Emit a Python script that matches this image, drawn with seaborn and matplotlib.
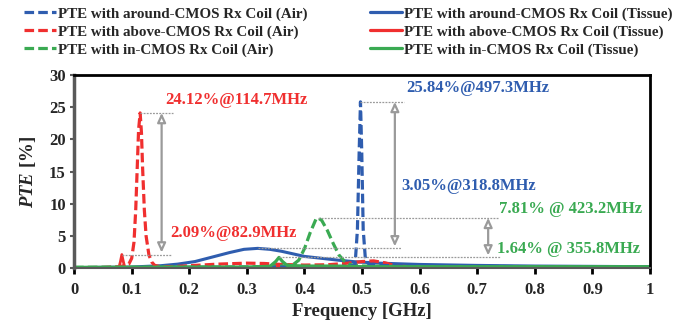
import pandas as pd
import matplotlib
matplotlib.use("Agg")
import matplotlib.pyplot as plt
from matplotlib.lines import Line2D
import seaborn as sns

# Colours of the three coil placements
blue = "#2F5DAF"
red = "#F02F2F"
green = "#3AAA52"

# around-CMOS Rx coil (Air)
f_blue_air = [0.0, 0.1, 0.2, 0.3, 0.4, 0.45, 0.48, 0.488, 0.492, 0.495, 0.4973, 0.4995, 0.502, 0.506,
              0.512, 0.52, 0.55, 0.6, 0.7, 0.8, 0.9, 1.0]
pte_blue_air = [0.05, 0.05, 0.08, 0.1, 0.15, 0.2, 0.3, 0.6, 6.0, 18.0, 25.84, 18.0, 6.0, 1.2,
                0.6, 0.45, 0.35, 0.3, 0.25, 0.2, 0.2, 0.2]

# around-CMOS Rx coil (Tissue)
f_blue_tis = [0.0, 0.1, 0.15, 0.18, 0.21, 0.24, 0.27, 0.295, 0.3188, 0.34, 0.36, 0.38, 0.4, 0.43,
              0.46, 0.49, 0.53, 0.6, 0.7, 0.8, 0.9, 1.0]
pte_blue_tis = [0.05, 0.15, 0.35, 0.6, 1.0, 1.7, 2.4, 2.9, 3.05, 2.9, 2.6, 2.2, 1.8, 1.5,
                1.2, 0.95, 0.75, 0.55, 0.4, 0.3, 0.25, 0.2]

# above-CMOS Rx coil (Air)
f_red_air = [0.0, 0.05, 0.08, 0.095, 0.1, 0.104, 0.107, 0.11, 0.112, 0.1147, 0.117, 0.119, 0.122,
             0.125, 0.13, 0.135, 0.14, 0.15, 0.17, 0.2, 0.25, 0.3, 0.33, 0.36, 0.4, 0.44, 0.47,
             0.5, 0.52, 0.54, 0.56, 0.6, 0.7, 0.8, 0.9, 1.0]
pte_red_air = [0.05, 0.08, 0.2, 0.6, 1.5, 4.0, 9.0, 16.5, 21.5, 24.12, 21.0, 15.5, 9.0,
               5.0, 2.0, 0.9, 0.4, 0.2, 0.2, 0.35, 0.6, 0.75, 0.7, 0.55, 0.45, 0.5, 0.7,
               1.0, 1.1, 0.8, 0.3, 0.1, 0.05, 0.05, 0.05, 0.05]

# above-CMOS Rx coil (Tissue)
f_red_tis = [0.0, 0.07, 0.078, 0.0805, 0.0829, 0.0855, 0.088, 0.095, 0.2, 0.34, 0.352, 0.36, 0.4,
             0.5, 0.6, 1.0]
pte_red_tis = [0.0, 0.02, 0.1, 1.0, 2.09, 1.0, 0.1, 0.02, 0.02, 0.05, 0.4, 0.05, 0.05,
               0.15, 0.05, 0.02]

# in-CMOS Rx coil (Air)
f_green_air = [0.0, 0.3, 0.36, 0.38, 0.39, 0.4, 0.41, 0.42, 0.4232, 0.43, 0.44, 0.45, 0.46,
               0.47, 0.48, 0.5, 0.6, 1.0]
pte_green_air = [0.1, 0.15, 0.3, 0.5, 1.2, 3.0, 5.5, 7.6, 7.81, 7.4, 5.8, 3.8, 2.0,
                 1.0, 0.5, 0.3, 0.2, 0.15]

# in-CMOS Rx coil (Tissue)
f_green_tis = [0.0, 0.3, 0.34, 0.35, 0.3558, 0.362, 0.37, 0.4, 0.45, 0.5, 1.0]
pte_green_tis = [0.1, 0.15, 0.25, 1.0, 1.64, 1.0, 0.4, 0.3, 0.3, 0.2, 0.2]

labels = ["PTE with around-CMOS Rx Coil (Air)",
          "PTE with above-CMOS Rx Coil (Air)",
          "PTE with in-CMOS Rx Coil (Air)",
          "PTE with around-CMOS Rx Coil (Tissue)",
          "PTE with above-CMOS Rx Coil (Tissue)",
          "PTE with in-CMOS Rx Coil (Tissue)"]

sns.set_style("ticks")
plt.rcParams["font.family"] = ["Liberation Serif", "DejaVu Serif"]
plt.rcParams["font.weight"] = "bold"
plt.rcParams["mathtext.fontset"] = "custom"
plt.rcParams["mathtext.it"] = "Liberation Serif:italic:bold"
plt.rcParams["mathtext.rm"] = "Liberation Serif:bold"

fig = plt.figure(figsize=(6.86, 3.28), dpi=100)
ax = fig.add_axes([0.108, 0.183, 0.8395, 0.588])

dash = (3, 1.3)
series = [
    (f_blue_tis, pte_blue_tis, blue, "-", 2.2),
    (f_red_tis, pte_red_tis, red, "-", 2.0),
    (f_red_air, pte_red_air, red, "--", 2.3),
    (f_green_air, pte_green_air, green, "--", 2.3),
    (f_blue_air, pte_blue_air, blue, "--", 2.3),
    (f_green_tis, pte_green_tis, green, "-", 2.3),
]
for f, p, c, ls, lw in series:
    df = pd.DataFrame({"f": f, "pte": p})
    line_kw = dict(dashes=dash) if ls == "--" else {}
    sns.lineplot(data=df, x="f", y="pte", color=c, lw=lw, ax=ax, estimator=None,
                 legend=False, **line_kw)

ax.set_xlim(0, 1)
ax.set_ylim(0, 30)
ax.set_xticks([i / 10 for i in range(11)])
ax.set_xticklabels(["0", "0.1", "0.2", "0.3", "0.4", "0.5", "0.6", "0.7", "0.8", "0.9", "1"])
ax.set_yticks(range(0, 31, 5))
ax.tick_params(axis="x", direction="out", length=4, width=2, color="black",
               labelsize=12, pad=6)
ax.tick_params(axis="y", direction="out", length=3, width=1.5, color="#595959",
               labelsize=12, pad=3)
for lab in ax.get_xticklabels() + ax.get_yticklabels():
    lab.set_fontweight("bold")

ax.spines["left"].set_color("#595959")
ax.spines["left"].set_linewidth(2.5)
ax.spines["bottom"].set_color("#595959")
ax.spines["bottom"].set_linewidth(1.5)
ax.spines["top"].set_visible(True)
ax.spines["right"].set_visible(True)
ax.spines["top"].set_linewidth(2)
ax.spines["right"].set_linewidth(2)
ax.spines["top"].set_color("black")
ax.spines["right"].set_color("black")

ax.set_xlabel("Frequency [GHz]", fontsize=13.5, fontweight="bold", labelpad=4)
ax.set_ylabel(r"$\mathit{PTE}$ [%]", fontsize=13.5, fontweight="bold", labelpad=8)

# annotations: dotted reference lines and double arrows
gray = "#9A9A9A"
hlines = [(24.12, 0.1147, 0.171), (2.09, 0.0829, 0.170),
          (25.84, 0.4973, 0.572), (3.05, 0.3188, 0.567),
          (7.81, 0.4232, 0.737), (1.64, 0.3558, 0.740)]
for yv, x0, x1 in hlines:
    ax.plot([x0, x1], [yv, yv], ls=(0, (1.5, 1)), color=gray, lw=0.9)

arrows = [(0.152, 24.12, 2.09), (0.557, 25.84, 3.05), (0.719, 7.81, 1.64)]
for xa, y0, y1 in arrows:
    ax.annotate("", xy=(xa, y1 + 0.3), xytext=(xa, y0),
                arrowprops=dict(arrowstyle="<|-|>,head_length=0.55,head_width=0.25",
                                fc="white", ec=gray, lw=1.6, shrinkA=0, shrinkB=0))

texts = [(0.158, 26.1, "24.12%@114.7MHz", red),
         (0.167, 5.4, "2.09%@82.9MHz", red),
         (0.576, 28.0, "25.84%@497.3MHz", blue),
         (0.569, 12.75, "3.05%@318.8MHz", blue),
         (0.738, 9.2, "7.81% @ 423.2MHz", green),
         (0.734, 3.0, "1.64% @ 355.8MHz", green)]
for xt, yt, s, c in texts:
    ax.text(xt, yt, s, color=c, fontsize=12, fontweight="bold", va="center", ha="left")

# legend: Air (dashed) in first column, Tissue (solid) in second
colors = [blue, red, green]
handles = [Line2D([], [], color=c, lw=2.3, dashes=dash) for c in colors]
handles += [Line2D([], [], color=c, lw=2.3) for c in colors]
fig.legend(handles, labels, ncol=2, loc="upper left", bbox_to_anchor=(0.02, 1.01),
           frameon=False, handlelength=2.1, handletextpad=0.15,
           labelspacing=0.28, columnspacing=4.2, borderpad=0.2,
           prop={"weight": "bold", "size": 10.8})

fig.savefig("out.png", dpi=100)
